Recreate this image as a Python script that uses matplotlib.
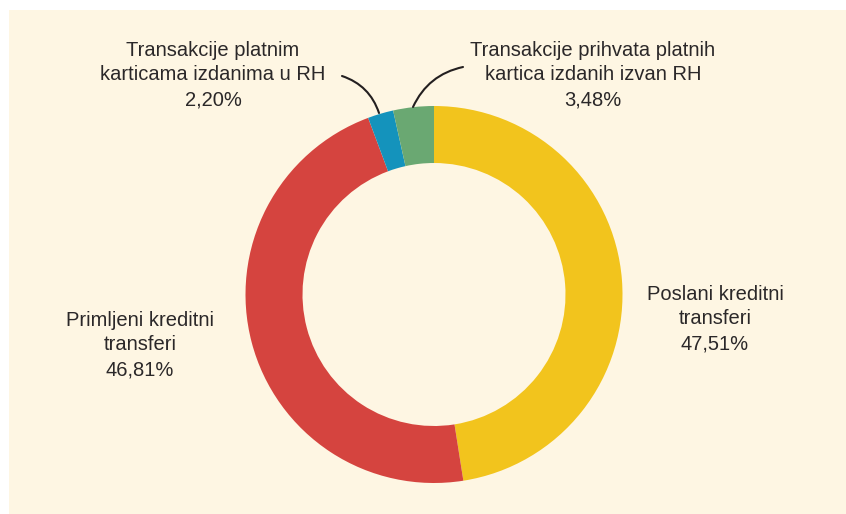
import matplotlib
matplotlib.use('Agg')
from matplotlib import pyplot as plt
from matplotlib.patches import Rectangle

labels = ['Poslani kreditni\ntransferi',
          'Primljeni kreditni\ntransferi',
          'Transakcije platnim\nkarticama izdanima u RH',
          'Transakcije prihvata platnih\nkartica izdanih izvan RH']
shares = [47.51, 46.81, 2.20, 3.48]
colors = ['#F2C41D', '#D5443F', '#1493BC', '#6AA872']

bg = '#FEF6E3'
txt = '#2B2829'

plt.rcParams['font.family'] = ['Liberation Sans', 'DejaVu Sans']

fig = plt.figure(figsize=(8.46, 5.14), dpi=100)
ax = fig.add_axes([0, 0, 1, 1])

# beige panel (y measured from bottom)
ax.add_patch(Rectangle((9, 0), 846 - 9, 504, facecolor=bg, edgecolor='none', zorder=0))

cx, cy, r = 434, 514 - 294.5, 188.5
wedges, _ = ax.pie(shares, colors=colors, startangle=90, counterclock=False,
                   center=(cx, cy), radius=r, frame=True,
                   wedgeprops=dict(width=57, edgecolor='none'))
ax.set_xlim(0, 846)
ax.set_ylim(0, 514)
ax.set_aspect('equal')
ax.axis('off')

def pct(v):
    return ('%.2f' % v).replace('.', ',') + '%'

# label positions in pixels (x, y from top)
pos = [(715, 319), (140, 345), (213, 75), (593, 75)]
for lab, v, (px, py) in zip(labels, shares, pos):
    ax.text(px, 514 - py, lab + '\n' + pct(v), ha='center', va='center',
            fontsize=14.5, color=txt, linespacing=1.38)

# leader lines for the small slices
ax.annotate('', xy=(379, 514 - 113), xytext=(342, 514 - 76),
            arrowprops=dict(arrowstyle='-', color='#231F20', lw=1.5,
                            connectionstyle='arc3,rad=-0.25', shrinkA=0, shrinkB=0))
ax.annotate('', xy=(413, 514 - 107), xytext=(463, 514 - 67),
            arrowprops=dict(arrowstyle='-', color='#231F20', lw=1.5,
                            connectionstyle='arc3,rad=0.25', shrinkA=0, shrinkB=0))

fig.savefig('out.png', dpi=100, facecolor='white')
